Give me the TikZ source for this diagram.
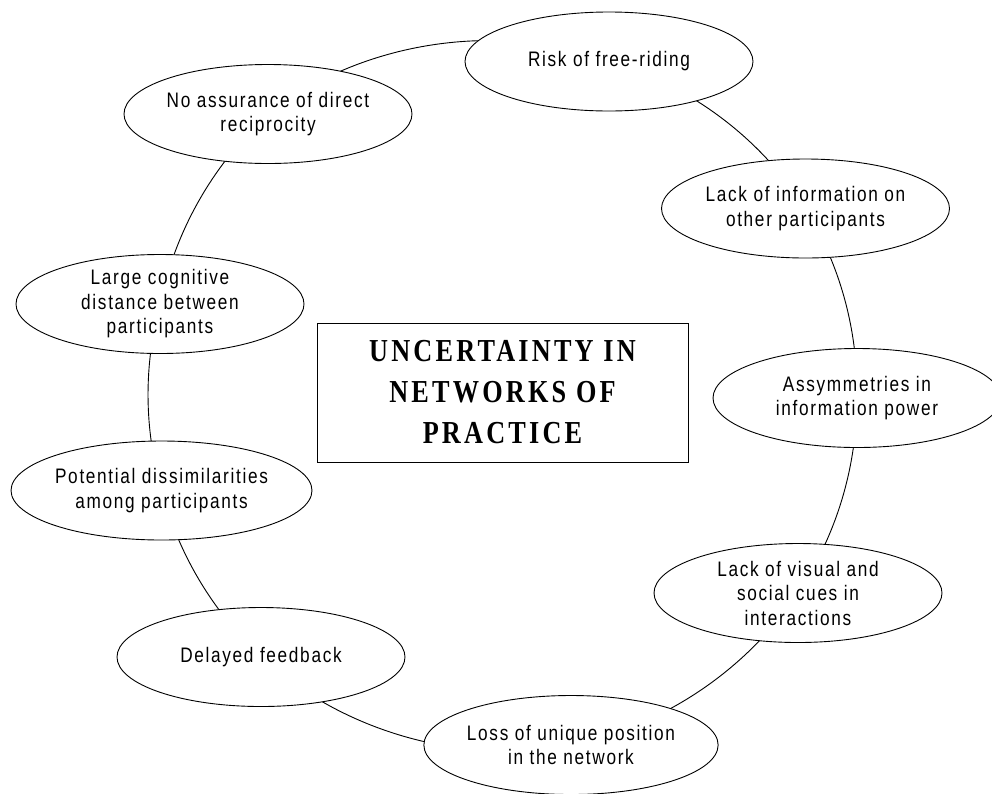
\documentclass[tikz,border=0pt]{standalone}
\usepackage{fontspec}
\setmainfont{Liberation Sans}[FakeStretch=0.82, LetterSpace=8]
\newfontfamily\titlefont{Liberation Serif}[FakeStretch=0.82, LetterSpace=10]
\usetikzlibrary{shapes.geometric, backgrounds}
\tikzset{
  bubble/.style={ellipse, draw, fill=white, line width=0.9pt, minimum width=288pt, minimum height=99pt,
    inner sep=0pt, align=center, font=\fontsize{21}{24.5}\selectfont},
  titlebox/.style={rectangle, draw, fill=white, line width=0.9pt, minimum width=371pt, minimum height=139pt,
    inner sep=0pt, align=center, font=\titlefont\bfseries\fontsize{32}{41}\selectfont},
  link/.style={draw=black, line width=0.9pt, looseness=0.88}
}
\begin{document}
\begin{tikzpicture}[x=1pt, y=-1pt]
  \useasboundingbox (0,0) rectangle (992,793);
  \node[titlebox] (title) at (502.5,392.5) {UNCERTAINTY IN\\NETWORKS OF\\PRACTICE};
  \node[bubble] (risk) at (609,61.5) {Risk of free-riding};
  \node[bubble] (info) at (805.5,208.5) {Lack of information on\\other participants};
  \node[bubble] (assym) at (857,398) {Assymmetries in\\information power};
  \node[bubble] (visual) at (798,593) {Lack of visual and\\social cues in\\interactions};
  \node[bubble] (loss) at (571,745) {Loss of unique position\\in the network};
  \node[bubble] (delayed) at (261,657) {Delayed feedback};
  \node[bubble] (potential) at (161.5,490.5) {Potential dissimilarities\\among participants};
  \node[bubble] (largecog) at (160,304) {Large cognitive\\distance between\\participants};
  \node[bubble] (noassur) at (268,114) {No assurance of direct\\reciprocity};
  \begin{scope}[on background layer]
    \fill[white] (0,0) rectangle (992,793);
    \draw[link] (risk.center) to[bend left=20.5] (info.center);
    \draw[link] (info.center) to[bend left=16] (assym.center);
    \draw[link] (assym.center) to[bend left=16.5] (visual.center);
    \draw[link] (visual.center) to[bend left=22.2] (loss.center);
    \draw[link] (loss.center) to[bend left=26.7] (delayed.center);
    \draw[link] (delayed.center) to[bend left=15.7] (potential.center);
    \draw[link] (potential.center) to[bend left=15.3] (largecog.center);
    \draw[link] (largecog.center) to[bend left=17.8] (noassur.center);
    \draw[link] (noassur.center) to[bend left=29.2] (risk.center);
  \end{scope}
\end{tikzpicture}
\end{document}
